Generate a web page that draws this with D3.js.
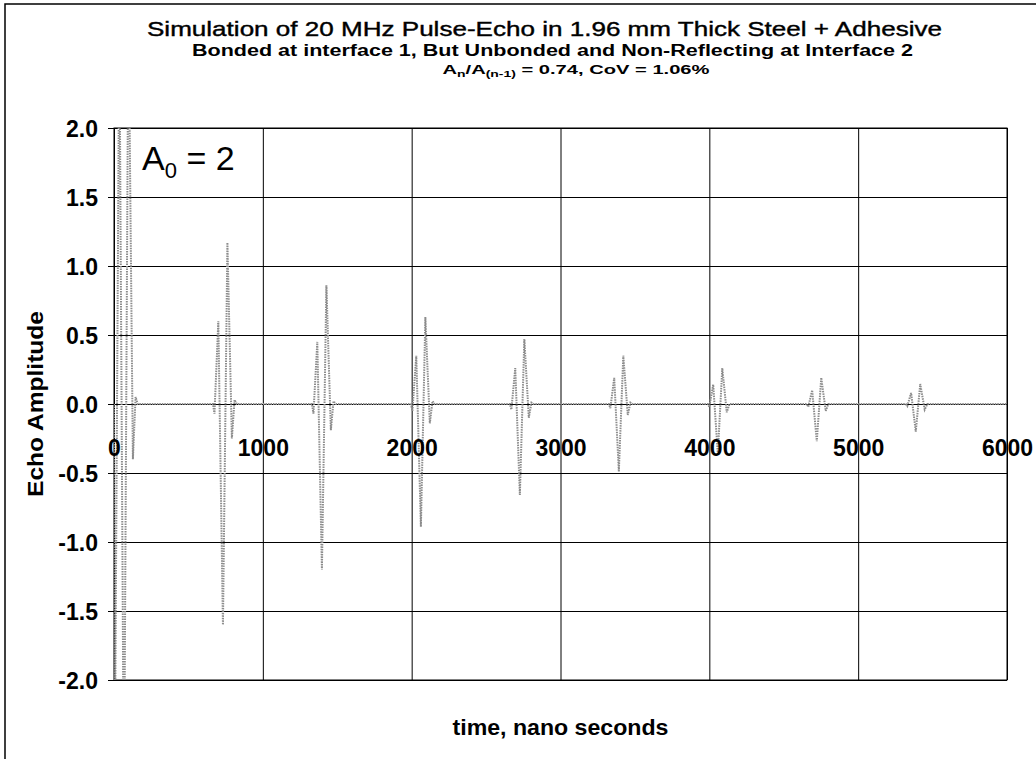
<!DOCTYPE html>
<html>
<head>
<meta charset="utf-8">
<script src="https://cdn.jsdelivr.net/npm/d3@7"></script>
<style>
  body { margin: 0; background: #fff; }
  svg { display: block; font-family: Arial, "Liberation Sans", sans-serif; }
</style>
</head>
<body>
<div id="chart"></div>
<script>
// Echo trains: [time ns, amplitude]
const echo0 = [[0, 0], [6, -2.6], [36, 2.8], [67, -3.0], [97, 2.9], [127, -0.4], [145, 0.05], [160, 0]];
const echo1 = [[665, 0], [675, -0.07], [701, 0.6], [732, -1.6], [762, 1.17], [792, -0.25], [810, 0.03], [825, 0]];
const echo2 = [[1330, 0], [1340, -0.07], [1366, 0.45], [1397, -1.2], [1427, 0.86], [1457, -0.19], [1475, 0.02], [1490, 0]];
const echo3 = [[1995, 0], [2005, -0.05], [2031, 0.35], [2062, -0.89], [2092, 0.63], [2122, -0.14], [2140, 0.02], [2155, 0]];
const echo4 = [[2660, 0], [2670, -0.04], [2696, 0.26], [2727, -0.66], [2757, 0.47], [2787, -0.1], [2805, 0.01], [2820, 0]];
const echo5 = [[3325, 0], [3335, -0.03], [3361, 0.19], [3392, -0.49], [3422, 0.35], [3452, -0.08], [3470, 0.01], [3485, 0]];
const echo6 = [[3990, 0], [4000, -0.02], [4026, 0.14], [4057, -0.36], [4087, 0.26], [4117, -0.06], [4135, 0], [4150, 0]];
const echo7 = [[4655, 0], [4665, -0.02], [4691, 0.1], [4722, -0.27], [4752, 0.19], [4782, -0.05], [4800, 0], [4815, 0]];
const echo8 = [[5320, 0], [5330, -0.015], [5356, 0.08], [5387, -0.2], [5417, 0.145], [5447, -0.04], [5465, 0], [5480, 0], [6000, 0]];

const xTicks = [0, 1000, 2000, 3000, 4000, 5000, 6000];
const yTicks = [-2, -1.5, -1, -0.5, 0, 0.5, 1, 1.5, 2];

const W = 1036, H = 759;
const plot = { left: 114, right: 1007, top: 128, bottom: 680 };

const svg = d3.select("#chart").append("svg")
  .attr("width", W)
  .attr("height", H);

// outer frame (only top and left edges fall inside the picture)
svg.append("rect")
  .attr("x", 5).attr("y", 4)
  .attr("width", W + 20).attr("height", H + 20)
  .attr("fill", "none")
  .attr("stroke", "#000")
  .attr("stroke-width", 1.5);

// scales
const x = d3.scaleLinear().domain([0, 6000]).range([plot.left, plot.right]);
const y = d3.scaleLinear().domain([-2, 2]).range([plot.bottom, plot.top]);

// horizontal grid + y tick labels
const yAxis = svg.append("g")
  .attr("transform", `translate(${plot.left - 6},0)`)
  .call(d3.axisLeft(y)
    .tickValues(yTicks)
    .tickSize(-(plot.right - plot.left + 6))
    .tickPadding(10)
    .tickFormat(d3.format(".1f")));
yAxis.select(".domain").remove();
yAxis.selectAll("line").attr("stroke", "#000").attr("stroke-width", 1);
yAxis.selectAll("text")
  .attr("font-size", 23)
  .attr("font-weight", "bold")
  .attr("fill", "#000")
  .attr("dy", "0.36em")
  .text(d => d3.format(".1f")(d).replace("−", "-"));

// vertical grid
const xGrid = svg.append("g")
  .attr("transform", `translate(0,${plot.bottom})`)
  .call(d3.axisBottom(x)
    .tickValues(xTicks)
    .tickSize(-(plot.bottom - plot.top))
    .tickFormat(""));
xGrid.select(".domain").remove();
xGrid.selectAll("line").attr("stroke", "#000").attr("stroke-width", 1);

// plot frame
svg.append("rect")
  .attr("x", plot.left).attr("y", plot.top)
  .attr("width", plot.right - plot.left)
  .attr("height", plot.bottom - plot.top)
  .attr("fill", "none")
  .attr("stroke", "#000")
  .attr("stroke-width", 1);

// waveform
svg.append("clipPath").attr("id", "clip")
  .append("rect")
  .attr("x", plot.left).attr("y", plot.top)
  .attr("width", plot.right - plot.left)
  .attr("height", plot.bottom - plot.top);

const trace = [].concat(echo0, echo1, echo2, echo3, echo4, echo5, echo6, echo7, echo8);
const line = d3.line().x(d => x(d[0])).y(d => y(d[1]));

svg.append("path")
  .datum(trace)
  .attr("clip-path", "url(#clip)")
  .attr("d", line)
  .attr("fill", "none")
  .attr("stroke", "#8c8c8c")
  .attr("stroke-width", 2)
  .attr("stroke-dasharray", "1.5,1");

// x tick labels sit below the zero line
const xAxis = svg.append("g")
  .attr("transform", `translate(0,${y(0)})`)
  .call(d3.axisBottom(x)
    .tickValues(xTicks)
    .tickSize(0)
    .tickPadding(36)
    .tickFormat(d3.format("d")));
xAxis.select(".domain").remove();
xAxis.selectAll("text")
  .attr("font-size", 23)
  .attr("font-weight", "bold")
  .attr("fill", "#000");

// titles
svg.append("text")
  .attr("x", 147).attr("y", 36)
  .attr("font-size", 21)
  .attr("stroke", "#000")
  .attr("stroke-width", 0.4)
  .attr("textLength", 795)
  .attr("lengthAdjust", "spacingAndGlyphs")
  .text("Simulation of 20 MHz Pulse-Echo in 1.96 mm Thick Steel + Adhesive");

svg.append("text")
  .attr("x", 192).attr("y", 56)
  .attr("font-size", 16)
  .attr("font-weight", "bold")
  .attr("textLength", 721)
  .attr("lengthAdjust", "spacingAndGlyphs")
  .text("Bonded at interface 1, But Unbonded and Non-Reflecting at Interface 2");

const t3 = svg.append("text")
  .attr("transform", "translate(576,74) scale(1.55,1)")
  .attr("text-anchor", "middle")
  .attr("font-size", 13)
  .attr("font-weight", "bold");
t3.append("tspan").text("A");
t3.append("tspan").attr("font-size", 9).attr("dy", 3).text("n");
t3.append("tspan").attr("dy", -3).text("/A");
t3.append("tspan").attr("font-size", 9).attr("dy", 3).text("(n-1)");
t3.append("tspan").attr("dy", -3).text(" = 0.74, CoV = 1.06%");

// axis titles
svg.append("text")
  .attr("transform", `translate(43,${(plot.top + plot.bottom) / 2}) rotate(-90)`)
  .attr("text-anchor", "middle")
  .attr("font-size", 22)
  .attr("font-weight", "bold")
  .attr("textLength", 186)
  .attr("lengthAdjust", "spacingAndGlyphs")
  .text("Echo Amplitude");

svg.append("text")
  .attr("x", (plot.left + plot.right) / 2).attr("y", 735)
  .attr("text-anchor", "middle")
  .attr("font-size", 22)
  .attr("font-weight", "bold")
  .attr("textLength", 216)
  .attr("lengthAdjust", "spacingAndGlyphs")
  .text("time, nano seconds");

// A0 annotation
const a0 = svg.append("text")
  .attr("x", 142).attr("y", 170)
  .attr("font-size", 34);
a0.append("tspan").text("A");
a0.append("tspan").attr("font-size", 22).attr("dy", 8).text("0");
a0.append("tspan").attr("dy", -8).text(" = 2");
</script>
</body>
</html>
